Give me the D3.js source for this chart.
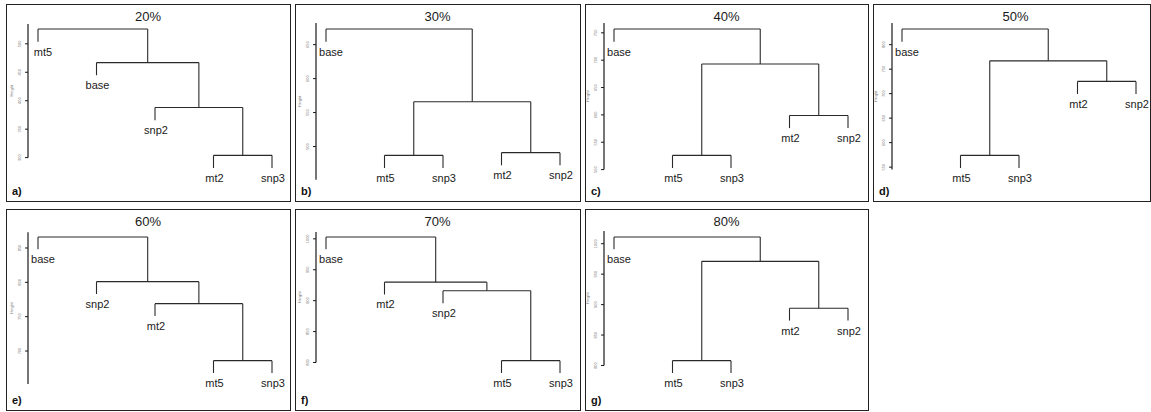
<!DOCTYPE html>
<html>
<head>
<meta charset="utf-8">
<script src="https://cdn.jsdelivr.net/npm/d3@7"></script>
<style>
body { margin: 0; background: #fff; }
svg { display: block; font-family: "Liberation Sans", Arial, sans-serif; }
</style>
</head>
<body>
<div id="chart"></div>
<script>
// one entry per panel
var titles = ["20%", "30%", "40%", "50%", "60%", "70%", "80%"];
var tags = ["a)", "b)", "c)", "d)", "e)", "f)", "g)"];

// merges: [left, right, height]; a number points to an earlier merge
var merges20 = [["mt2", "snp3", 304], ["snp2", 0, 388], ["base", 1, 467], ["mt5", 2, 526]];
var merges30 = [["mt2", "snp2", 491], ["mt5", "snp3", 487], [1, 0, 566], ["base", 2, 673]];
var merges40 = [["mt2", "snp2", 599], ["mt5", "snp3", 526], [1, 0, 693], ["base", 2, 757]];
var merges50 = [["mt5", "snp3", 574], ["mt2", "snp2", 725], [0, 1, 767], ["base", 2, 832]];
var merges60 = [["mt5", "snp3", 686], ["mt2", 0, 769], ["snp2", 1, 801], ["base", 2, 866]];
var merges70 = [["mt5", "snp3", 803], ["snp2", 0, 916], ["mt2", 1, 930], ["base", 2, 1003]];
var merges80 = [["mt5", "snp3", 808], ["mt2", "snp2", 894], [0, 1, 971], ["base", 2, 1011]];

var ticks20 = [300, 350, 400, 450, 500];
var ticks30 = [500, 550, 600, 650];
var ticks40 = [500, 550, 600, 650, 700, 750];
var ticks50 = [550, 600, 650, 700, 750, 800];
var ticks60 = [700, 750, 800, 850];
var ticks70 = [800, 850, 900, 950, 1000];
var ticks80 = [800, 850, 900, 950, 1000];

// extent of the drawn axis line, in height units
var axisRanges = [[300, 535], [451, 682], [500, 768], [545, 844], [652, 873], [800, 1011], [800, 1021]];

var allMerges = [merges20, merges30, merges40, merges50, merges60, merges70, merges80];
var allTicks = [ticks20, ticks30, ticks40, ticks50, ticks60, ticks70, ticks80];

var W = 1151, H = 412;
var colX = [6, 295, 585, 873];
var boxW = [284, 285, 283, 277];
var rowY = [4, 209];
var boxH = [197, 201];
var plotTop = [25, 28], plotBottom = [164, 164];

var svg = d3.select("#chart").append("svg")
  .attr("width", W)
  .attr("height", H);

function drawPanel(i) {
  var col = i < 4 ? i : i - 4;
  var row = i < 4 ? 0 : 1;
  var merges = allMerges[i];
  var shift = col > 1 ? 3 : col;

  var g = svg.append("g")
    .attr("transform", "translate(" + colX[col] + "," + rowY[row] + ")");

  g.append("rect")
    .attr("x", 0.5).attr("y", 0.5)
    .attr("width", boxW[col]).attr("height", boxH[row])
    .attr("fill", "none")
    .attr("stroke", "#222")
    .attr("stroke-width", 1);

  // leaf order from the merge tree (left to right)
  function leavesOf(ref) {
    if (typeof ref === "string") return [ref];
    var m = merges[ref];
    return leavesOf(m[0]).concat(leavesOf(m[1]));
  }
  var order = leavesOf(merges.length - 1);

  var heights = merges.map(function(m) { return m[2]; });
  var maxH = d3.max(heights), minH = d3.min(heights);
  var hang = 0.1 * (maxH - minH);

  var x = d3.scalePoint()
    .domain(order)
    .range([32 - shift, 266 - shift]);

  var y = d3.scaleLinear()
    .domain([minH - hang, maxH])
    .range([plotBottom[row], plotTop[row]]);

  function xOf(ref) {
    if (typeof ref === "string") return x(ref);
    var m = merges[ref];
    return (xOf(m[0]) + xOf(m[1])) / 2;
  }

  var segs = [];
  merges.forEach(function(m) {
    var hy = y(m[2]);
    segs.push([xOf(m[0]), hy, xOf(m[1]), hy]);
    [m[0], m[1]].forEach(function(c) {
      var cy = typeof c === "string" ? y(m[2] - hang) : y(merges[c][2]);
      segs.push([xOf(c), hy, xOf(c), cy]);
    });
  });

  g.append("g").selectAll("line")
    .data(segs)
    .enter().append("line")
    .attr("x1", function(d) { return d[0]; })
    .attr("y1", function(d) { return d[1]; })
    .attr("x2", function(d) { return d[2]; })
    .attr("y2", function(d) { return d[3]; })
    .attr("stroke", "#2a2a2a")
    .attr("stroke-width", 1.1);

  // leaf labels under each leaf end
  var leafEnds = [];
  merges.forEach(function(m) {
    [m[0], m[1]].forEach(function(c) {
      if (typeof c === "string") leafEnds.push({ name: c, h: m[2] - hang });
    });
  });
  g.append("g").selectAll("text")
    .data(leafEnds)
    .enter().append("text")
    .attr("x", function(d) { return x(d.name) + (order.indexOf(d.name) === 0 ? 5 : 1); })
    .attr("y", function(d) { return y(d.h) + 14; })
    .attr("text-anchor", "middle")
    .attr("font-size", 11)
    .attr("fill", "#1a1a1a")
    .text(function(d) { return d.name; });

  // y axis
  var ax = g.append("g").attr("transform", "translate(" + (22 - shift) + ",0)");
  var ar = axisRanges[i];
  ax.append("line")
    .attr("x1", 0).attr("x2", 0)
    .attr("y1", y(ar[0])).attr("y2", y(ar[1]))
    .attr("stroke", "#1a1a1a")
    .attr("stroke-width", 1.2);
  var tk = ax.selectAll(".tk")
    .data(allTicks[i])
    .enter().append("g")
    .attr("class", "tk")
    .attr("transform", function(d) { return "translate(0," + y(d) + ")"; });
  tk.append("line")
    .attr("x1", -3).attr("x2", 0)
    .attr("stroke", "#1a1a1a")
    .attr("stroke-width", 1);
  tk.append("text")
    .attr("transform", "translate(-7,0) rotate(-90)")
    .attr("text-anchor", "middle")
    .attr("font-size", 4)
    .attr("fill", "#777")
    .text(function(d) { return d; });
  ax.append("text")
    .attr("transform", "translate(-15," + ((y(ar[0]) + y(ar[1])) / 2) + ") rotate(-90)")
    .attr("text-anchor", "middle")
    .attr("font-size", 4)
    .attr("fill", "#777")
    .text("Height");

  // title and tag
  g.append("text")
    .attr("x", boxW[col] / 2 + (col === 3 ? 4 : 0))
    .attr("y", 17)
    .attr("text-anchor", "middle")
    .attr("font-size", 13)
    .attr("fill", "#1a1a1a")
    .text(titles[i]);

  g.append("text")
    .attr("x", 6)
    .attr("y", boxH[row] - 6)
    .attr("font-size", 11)
    .attr("font-weight", "bold")
    .attr("fill", "#111")
    .text(tags[i]);
}

for (var i = 0; i < titles.length; i++) drawPanel(i);
</script>
</body>
</html>
